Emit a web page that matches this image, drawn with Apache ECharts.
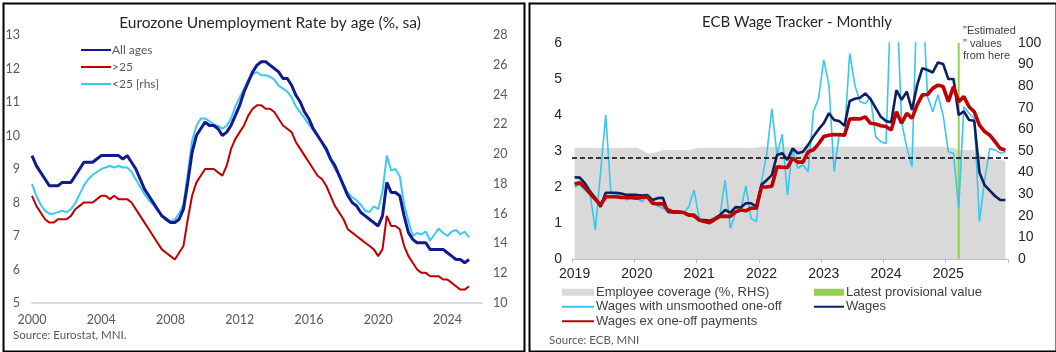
<!DOCTYPE html>
<html>
<head>
<meta charset="utf-8">
<script src="https://cdn.jsdelivr.net/npm/echarts@6/dist/echarts.min.js"></script>
<style>
  html, body { margin: 0; padding: 0; background: #fff; }
  #chart { width: 1056px; height: 352px; }
</style>
</head>
<body>
<div id="chart"></div>
<script>
// ---- left panel: eurozone unemployment, quarterly readings from 2000Q1 ----
const unempStartYear = 2000;
const allAges = [
  9.4, 9.1, 8.9, 8.7,   8.5, 8.5, 8.5, 8.6,   8.6, 8.6, 8.8, 9.0,   9.2, 9.2, 9.2, 9.3,
  9.4, 9.4, 9.4, 9.4,   9.4, 9.3, 9.4, 9.2,   9.0, 8.7, 8.4, 8.2,   8.0, 7.8, 7.6, 7.5,
  7.4, 7.4, 7.5, 7.8,   8.6, 9.5, 10.0, 10.2, 10.4, 10.3, 10.3, 10.2, 10.0, 10.1, 10.3, 10.6,
  10.9, 11.3, 11.6, 11.9, 12.1, 12.2, 12.2, 12.1, 12.0, 11.9, 11.7, 11.7, 11.5, 11.2, 11.0, 10.7,
  10.5, 10.2, 10.0, 9.8, 9.6, 9.3, 9.1, 8.8,   8.5, 8.2, 8.0, 7.9,   7.7, 7.6, 7.5, 7.4,
  7.3, 7.6, 8.6, 8.3,   8.3, 8.2, 7.6, 7.1,   6.9, 6.8, 6.8, 6.8,   6.6, 6.6, 6.6, 6.6,
  6.5, 6.4, 6.3, 6.3,   6.2, 6.3
];
const over25 = [
  8.2, 7.9, 7.7, 7.5,   7.4, 7.4, 7.5, 7.5,   7.5, 7.6, 7.8, 7.9,   8.0, 8.0, 8.0, 8.1,
  8.2, 8.2, 8.1, 8.2,   8.1, 8.1, 8.1, 8.0,   7.8, 7.6, 7.4, 7.2,   7.0, 6.8, 6.6, 6.5,
  6.4, 6.3, 6.5, 6.7,   7.5, 8.2, 8.6, 8.8,   9.0, 9.0, 9.0, 8.9,   8.8, 9.1, 9.6, 9.9,
  10.1, 10.3, 10.6, 10.8, 10.9, 10.9, 10.8, 10.8, 10.7, 10.5, 10.3, 10.2, 10.1, 9.8, 9.6, 9.4,
  9.2, 9.0, 8.8, 8.7,   8.5, 8.2, 7.9, 7.7,   7.5, 7.2, 7.1, 7.0,   6.9, 6.8, 6.7, 6.6,
  6.4, 6.6, 7.6, 7.3,   7.3, 7.2, 6.7, 6.4,   6.2, 6.0, 5.9, 5.9,   5.8, 5.8, 5.8, 5.7,
  5.7, 5.6, 5.5, 5.4,   5.4, 5.5
];
const under25 = [
  18.0, 17.2, 16.6, 16.2, 16.0, 16.0, 16.1, 16.2, 16.1, 16.3, 16.7, 17.3, 17.9, 18.3, 18.6, 18.8,
  19.0, 19.1, 19.2, 19.1, 19.2, 19.1, 19.1, 18.8, 18.3, 17.8, 17.3, 16.9, 16.6, 16.2, 15.9, 15.7,
  15.5, 15.6, 16.0, 16.6, 18.7, 20.9, 21.9, 22.4, 22.4, 22.2, 22.0, 21.9, 21.7, 21.9, 22.4, 23.2,
  23.8, 24.4, 25.0, 25.4, 25.5, 25.3, 25.3, 25.2, 25.0, 24.6, 24.4, 24.2, 23.8, 23.2, 22.8, 22.4,
  22.0, 21.6, 21.2, 20.8, 20.2, 19.6, 19.0, 18.6, 18.0, 17.4, 17.1, 16.9, 16.6, 16.2, 16.1, 16.5,
  16.3, 17.5, 19.9, 18.9, 19.0, 18.5, 16.6, 15.5, 14.5, 14.7, 14.6, 14.8, 14.2, 14.6, 15.0, 14.7,
  14.5, 14.8, 14.9, 14.6, 14.8, 14.4
];

// ---- right panel: ECB wage tracker, monthly Jan 2019 - Dec 2025 ----
const wageStartYear = 2019;
const coverage = [
  51.5, 51.5, 51.5, 51.5, 51.5, 51.5, 51.5, 51.5, 51.5, 51.5, 51.5, 51.5,
  51.5, 50.5, 49, 49, 49.5, 50.5, 50.5, 50.5, 50.5, 50.5, 50.5, 51,
  51.5, 51.5, 51.5, 51.5, 51.5, 51.5, 51.5, 51.5, 51.5, 51.5, 51.5, 51.5,
  52, 52, 52, 52, 52, 52, 52, 52, 52, 52, 52, 52,
  52, 52, 52, 52, 52, 52, 52, 52, 52, 52, 52, 52,
  52, 52, 52, 52, 52, 52, 52, 52, 52, 52, 52, 52,
  51.5, 51.5, 50.5, 50.5, 50.5, 50.5, 48.5, 47, 46.5, 46, 46, 45.5
];
const unsmoothed = [
  2.0, 2.06, 1.92, 1.78, 0.81, 2.4, 4.0, 1.82, 1.8, 1.78, 1.64, 1.73,
  1.69, 1.59, 1.73, 1.64, 1.47, 1.41, 1.31, 1.29, 1.29, 1.27, 1.45, 1.92,
  1.13, 1.08, 1.08, 1.1, 1.22, 2.19, 0.85, 1.27, 1.36, 2.03, 1.13, 1.04,
  2.15, 2.89, 4.17, 2.89, 3.46, 1.78, 3.07, 2.52, 2.61, 2.43, 4.09, 4.46,
  5.53, 4.83, 2.43, 3.49, 3.46, 5.71, 4.83, 4.37, 4.32, 4.5, 3.4, 3.26,
  3.21, 7.5, 7.5, 3.8, 3.1, 2.56, 7.5, 7.5, 4.51, 4.09, 4.56, 4.0,
  2.98, 2.94, 1.41, 4.23, 4.05, 3.91, 1.04, 2.2, 3.07, 3.03, 2.94, 2.98
];
const wages = [
  2.27, 2.26, 2.1, 1.87, 1.69, 1.45, 1.84, 1.84, 1.84, 1.82, 1.78, 1.78,
  1.78, 1.76, 1.78, 1.64, 1.69, 1.7, 1.31, 1.29, 1.29, 1.29, 1.24, 1.18,
  1.08, 1.08, 1.06, 1.13, 1.22, 1.36, 1.29, 1.44, 1.43, 1.55, 1.55, 1.45,
  2.06, 2.19, 2.33, 2.89, 2.94, 2.75, 3.07, 2.94, 2.98, 3.17, 3.4, 3.6,
  3.77, 4.05, 3.86, 3.83, 3.7, 4.39, 4.45, 4.48, 4.6, 4.45, 4.2, 3.95,
  3.83, 3.8, 4.69, 4.42, 4.65, 4.14, 4.83, 5.3, 5.25, 5.18, 5.46, 5.42,
  5.0, 5.0, 4.0, 4.1, 3.86, 3.84, 2.4, 2.05, 1.9, 1.75, 1.64, 1.64
];
const exOneOff = [
  2.08, 2.12, 1.99, 1.82, 1.66, 1.5, 1.73, 1.73, 1.73, 1.71, 1.71, 1.7,
  1.69, 1.71, 1.73, 1.55, 1.53, 1.53, 1.36, 1.31, 1.31, 1.29, 1.22, 1.22,
  1.08, 1.04, 1.01, 1.1, 1.18, 1.19, 1.18, 1.31, 1.36, 1.34, 1.41, 1.41,
  2.0, 2.0, 2.02, 2.56, 2.55, 2.54, 2.8, 2.69, 2.69, 2.98, 3.03, 3.2,
  3.4, 3.44, 3.46, 3.45, 3.44, 3.89, 3.9, 3.89, 3.95, 3.77, 3.75, 3.7,
  3.68, 3.58, 4.09, 3.77, 4.05, 3.91, 4.28, 4.56, 4.57, 4.74, 4.83, 4.79,
  4.37, 4.79, 4.37, 4.51, 4.23, 4.09, 3.72, 3.54, 3.44, 3.26, 3.07, 3.03
];
const provisionalMonth = '2025-03';
const dashedLevel = 2.8;

const months = wages.map((_, i) => {
  const m = (i % 12) + 1;
  return (wageStartYear + Math.floor(i / 12)) + '-' + (m < 10 ? '0' + m : m);
});
const provisional = months.map(m => (m === provisionalMonth ? 100 : null));
const toYearPoints = arr => arr.map((v, i) => [unempStartYear + i / 4, v]);

const grey = '#595959';
const leftFont = 'Lato';
const rightFont = 'Liberation Sans';
// hide the default circle that line series put in the middle of their legend icon
const noDot = { opacity: 0 };
const solid = { opacity: 1 };

let chart = echarts.init(document.getElementById('chart'), null, { renderer: 'canvas' });

let option = {
  animation: false,
  backgroundColor: '#fff',
  title: [
    {
      text: 'Eurozone Unemployment Rate by age (%, sa)',
      left: 265, top: 10, textAlign: 'center',
      textStyle: { fontFamily: leftFont, fontSize: 15.5, fontWeight: 'normal', color: '#262626' }
    },
    {
      text: 'ECB Wage Tracker - Monthly',
      left: 792, top: 10, textAlign: 'center',
      textStyle: { fontFamily: leftFont, fontSize: 15, fontWeight: 'normal', color: '#262626' }
    }
  ],
  legend: [
    {
      left: 80, top: 44, orient: 'vertical', itemWidth: 30, itemHeight: 14, itemGap: 5, padding: 0,
      itemStyle: noDot,
      data: ['All ages', '>25', '<25 [rhs]'],
      textStyle: { fontFamily: leftFont, fontSize: 12, color: grey, padding: [0, 0, 0, -4] }
    },
    {
      left: 561, top: 285, orient: 'vertical', itemWidth: 32, itemHeight: 7, itemGap: 0, padding: 0,
      itemStyle: noDot,
      data: [
        { name: 'Employee coverage (%, RHS)', icon: 'rect', itemStyle: solid },
        'Wages with unsmoothed one-off',
        'Wages ex one-off payments'
      ],
      textStyle: { fontFamily: rightFont, fontSize: 13, color: '#404040', lineHeight: 14.5, padding: [0, 0, 0, -3] }
    },
    {
      left: 813, top: 285, orient: 'vertical', itemWidth: 30, itemHeight: 7, itemGap: 0, padding: 0,
      itemStyle: noDot,
      data: [{ name: 'Latest provisional value', icon: 'rect', itemStyle: solid }, 'Wages'],
      textStyle: { fontFamily: rightFont, fontSize: 13, color: '#404040', lineHeight: 14.5, padding: [0, 0, 0, -3] }
    }
  ],
  grid: [
    { left: 32, top: 35, width: 450, height: 268 },
    { left: 572, top: 43, width: 436, height: 216 }
  ],
  xAxis: [
    {
      type: 'value', gridIndex: 0, min: 2000, max: 2026, interval: 4,
      axisLine: { lineStyle: { color: '#d9d9d9', width: 2 } },
      axisTick: { show: false }, splitLine: { show: false },
      axisLabel: {
        showMaxLabel: false, margin: 10, formatter: v => String(v),
        fontFamily: leftFont, fontSize: 12.5, color: grey
      }
    },
    {
      type: 'category', gridIndex: 1, data: months, boundaryGap: true,
      axisLine: { lineStyle: { color: '#bfbfbf', width: 1 } },
      axisTick: { show: true, interval: i => i % 12 === 0, length: 4, lineStyle: { color: '#bfbfbf' } },
      splitLine: { show: false },
      axisLabel: {
        interval: i => i % 12 === 0, margin: 8,
        formatter: v => v.slice(0, 4),
        fontFamily: rightFont, fontSize: 14, color: '#262626'
      }
    }
  ],
  yAxis: [
    {
      type: 'value', gridIndex: 0, min: 5, max: 13, interval: 1,
      axisLine: { show: false }, axisTick: { show: false }, splitLine: { show: false },
      axisLabel: { margin: 12, fontFamily: leftFont, fontSize: 12.5, color: grey }
    },
    {
      type: 'value', gridIndex: 0, min: 10, max: 28, interval: 2, position: 'right',
      axisLine: { show: false }, axisTick: { show: false }, splitLine: { show: false },
      axisLabel: { margin: 11, fontFamily: leftFont, fontSize: 12.5, color: grey }
    },
    {
      type: 'value', gridIndex: 1, min: 0, max: 6, interval: 1,
      axisLine: { show: false }, axisTick: { show: false }, splitLine: { show: false },
      axisLabel: { margin: 10, fontFamily: rightFont, fontSize: 14, color: '#262626' }
    },
    {
      type: 'value', gridIndex: 1, min: 0, max: 100, interval: 10, position: 'right',
      axisLine: { show: false }, axisTick: { show: false }, splitLine: { show: false },
      axisLabel: { margin: 10, fontFamily: rightFont, fontSize: 14, color: '#262626' }
    }
  ],
  series: [
    {
      name: '<25 [rhs]', type: 'line', xAxisIndex: 0, yAxisIndex: 1,
      data: toYearPoints(under25), showSymbol: false, symbol: 'none',
      color: '#3dc8f2', lineStyle: { width: 2, color: '#3dc8f2' }
    },
    {
      name: '>25', type: 'line', xAxisIndex: 0, yAxisIndex: 0,
      data: toYearPoints(over25), showSymbol: false, symbol: 'none',
      color: '#c00000', lineStyle: { width: 2, color: '#c00000' }
    },
    {
      name: 'All ages', type: 'line', xAxisIndex: 0, yAxisIndex: 0, z: 3,
      data: toYearPoints(allAges), showSymbol: false, symbol: 'none',
      color: '#111a8f', lineStyle: { width: 3, color: '#111a8f' }
    },
    {
      name: 'Employee coverage (%, RHS)', type: 'line', xAxisIndex: 1, yAxisIndex: 3,
      data: coverage, showSymbol: false, symbol: 'none', z: 1,
      color: '#d9d9d9', lineStyle: { width: 0 },
      areaStyle: { color: '#d9d9d9', opacity: 1 }
    },
    {
      name: 'Latest provisional value', type: 'bar', xAxisIndex: 1, yAxisIndex: 3,
      data: provisional, barWidth: 2, z: 2,
      color: '#92d050', itemStyle: { color: '#92d050' }
    },
    {
      name: 'Wages with unsmoothed one-off', type: 'line', xAxisIndex: 1, yAxisIndex: 2,
      data: unsmoothed, showSymbol: false, symbol: 'none', clip: true, z: 3,
      color: '#38c5f0', lineStyle: { width: 1.6, color: '#38c5f0' },
      markLine: {
        silent: true, symbol: 'none', label: { show: false },
        lineStyle: { type: [5, 3], color: '#000', width: 1.5 },
        data: [{ yAxis: dashedLevel }]
      }
    },
    {
      name: 'Wages', type: 'line', xAxisIndex: 1, yAxisIndex: 2,
      data: wages, showSymbol: false, symbol: 'none', z: 4,
      color: '#0c1f5e', lineStyle: { width: 2.6, color: '#0c1f5e' }
    },
    {
      name: 'Wages ex one-off payments', type: 'line', xAxisIndex: 1, yAxisIndex: 2,
      data: exOneOff, showSymbol: false, symbol: 'none', z: 5,
      color: '#c00000', lineStyle: { width: 3.6, color: '#c00000' }
    }
  ],
  graphic: [
    {
      type: 'rect', left: 1, top: 1, z: 100, silent: true,
      shape: { width: 521, height: 348 },
      style: { fill: 'none', stroke: '#000', lineWidth: 2 }
    },
    {
      type: 'rect', left: 527, top: 1, z: 100, silent: true,
      shape: { width: 527, height: 348 },
      style: { fill: 'none', stroke: '#000', lineWidth: 2 }
    },
    {
      type: 'text', left: 13, top: 329,
      style: { text: 'Source: Eurostat, MNI.', fontFamily: leftFont, fontSize: 11.5, fill: grey }
    },
    {
      type: 'text', left: 549, top: 334,
      style: { text: 'Source: ECB, MNI', fontFamily: leftFont, fontSize: 11.5, fill: grey }
    },
    {
      type: 'text', left: 963, top: 25,
      style: {
        text: '"Estimated\n" values\nfrom here',
        fontFamily: rightFont, fontSize: 11, lineHeight: 12.5, fill: '#404040'
      }
    }
  ]
};

option && chart.setOption(option);
</script>
</body>
</html>
